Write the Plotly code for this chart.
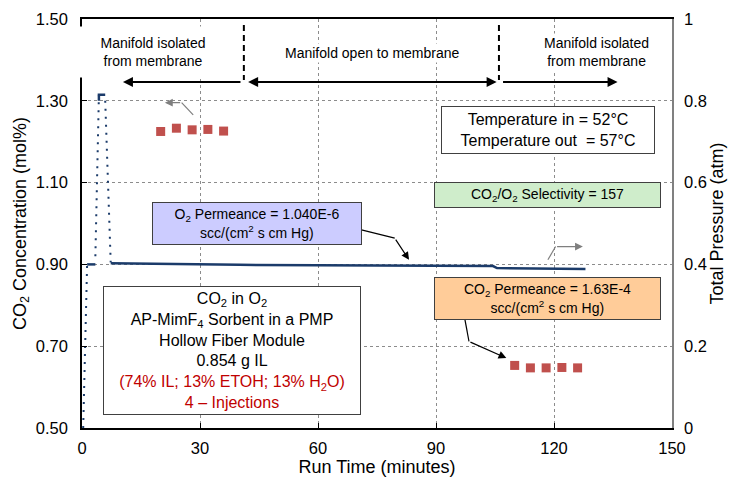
import plotly.graph_objects as go

# ---------------- data ----------------
# CO2 concentration (mol%) injection peaks - left axis
inj1_time = [20, 24, 28, 32, 36]
inj1_conc = [1.225, 1.233, 1.229, 1.230, 1.226]
inj2_time = [110, 114, 118, 122, 126]
inj2_conc = [0.653, 0.647, 0.647, 0.648, 0.647]

# Total pressure (atm) - right axis
fill1_time = [0.3, 1.3]
fill1_p = [0.00, 0.40]
hold1_time = [1.3, 3.4]
hold1_p = [0.40, 0.40]
fill2_time = [3.4, 4.3]
fill2_p = [0.42, 0.815]
hold2_time = [4.3, 4.3, 5.9]
hold2_p = [0.80, 0.815, 0.815]
drop_time = [5.9, 7.3]
drop_p = [0.80, 0.405]
hold3_time = [7.3, 20, 40, 60, 80, 100, 104.5, 105.5, 115, 128]
hold3_p = [0.403, 0.401, 0.399, 0.398, 0.397, 0.397, 0.396, 0.391, 0.390, 0.389]

x_ticks = [0, 30, 60, 90, 120, 150]
y_ticks = [0.50, 0.70, 0.90, 1.10, 1.30, 1.50]
y2_ticks = [0, 0.2, 0.4, 0.6, 0.8, 1]
y2_text = ["0", "0.2", "0.4", "0.6", "0.8", "1"]

# ---------------- style ----------------
NAVY = "#1B3B6A"
RED = "#C0504D"
FONT = "Liberation Sans, Arial, sans-serif"
OFF = 8                       # page body margin
W, H = 737 - OFF, 477 - OFF
X0, X1, YT, YB = 82, 672.5, 19, 428.3   # plot area in window pixels


def px(x):
    return (x - X0) / (X1 - X0)


def py(y):
    return (YB - y) / (YB - YT)


fig = go.Figure()

dotted = dict(color=NAVY, width=2, dash="2px,6px")
solid = dict(color=NAVY, width=2.5)
for t, p, ln in [(fill1_time, fill1_p, dotted), (hold1_time, hold1_p, solid),
                 (fill2_time, fill2_p, dotted), (hold2_time, hold2_p, solid),
                 (drop_time, drop_p, dotted), (hold3_time, hold3_p, solid)]:
    fig.add_trace(go.Scatter(x=t, y=p, yaxis="y2", mode="lines", line=ln,
                             showlegend=False, hoverinfo="skip"))

for t, c in [(inj1_time, inj1_conc), (inj2_time, inj2_conc)]:
    fig.add_trace(go.Scatter(x=t, y=c, mode="markers",
                             marker=dict(symbol="square", size=9, color=RED),
                             showlegend=False))

grid = dict(showgrid=True, gridcolor="#8c8c8c", griddash="dot", gridwidth=1)

fig.update_layout(
    width=W, height=H,
    margin=dict(l=X0 - OFF, r=737 - X1, t=YT - OFF, b=477 - YB, autoexpand=False),
    paper_bgcolor="white", plot_bgcolor="white",
    font=dict(family=FONT, size=16, color="black"),
    showlegend=False,
    xaxis=dict(range=[0, 150], tickvals=x_ticks, showline=True, linecolor="black",
               linewidth=1.5, mirror=True, ticks="inside", ticklen=5, tickcolor="black",
               zeroline=False, automargin=False, ticklabelstandoff=4,
               title=dict(text="Run Time (minutes)", font=dict(size=18), standoff=6),
               tickfont=dict(size=16.5), **grid),
    yaxis=dict(range=[0.5, 1.5], tickvals=y_ticks, tickformat=".2f", showline=True,
               linecolor="black", linewidth=1.5, ticks="inside", ticklen=5, tickcolor="black",
               zeroline=False, ticklabelstandoff=9, automargin=False,
               title=dict(text="CO<sub>2</sub> Concentration (mol%)", font=dict(size=18), standoff=5),
               tickfont=dict(size=16.5), **grid),
    yaxis2=dict(range=[0, 1], overlaying="y", side="right", tickvals=y2_ticks, ticktext=y2_text,
                showline=True, linecolor="#808080", linewidth=1.5, showgrid=False, zeroline=False,
                ticks="", ticklabelstandoff=7, automargin=False,
                title=dict(text="Total Pressure (atm)", font=dict(size=18), standoff=1),
                tickfont=dict(size=16.5)),
)

ann = []
# top region labels
ann.append(dict(text="Manifold isolated<br>from membrane", x=px(153), y=py(52),
                showarrow=False, bgcolor="white", width=168, height=48, font=dict(size=14)))
ann.append(dict(text="Manifold open to membrane", x=px(373), y=py(53.3),
                showarrow=False, bgcolor="white", font=dict(size=14)))
ann.append(dict(text="Manifold isolated<br>from membrane", x=px(597), y=py(52),
                showarrow=False, bgcolor="white", font=dict(size=14)))
# horizontal arrows
ann.append(dict(text="", x=px(123), y=py(82), ax=119, ay=0, showarrow=True,
                arrowhead=2, arrowsize=1, arrowwidth=2, arrowcolor="black"))
ann.append(dict(text="", x=px(497), y=py(82), ax=-250, ay=0, showarrow=True, arrowside="end+start",
                arrowhead=2, startarrowhead=2, arrowsize=1, startarrowsize=1, arrowwidth=2,
                arrowcolor="black"))
ann.append(dict(text="", x=px(618), y=py(82), ax=-116, ay=0, showarrow=True,
                arrowhead=2, arrowsize=1, arrowwidth=2, arrowcolor="black"))

# boxes
ann.append(dict(text="CO<sub>2</sub> in O<sub>2</sub><br>AP-MimF<sub>4</sub> Sorbent in a PMP<br>"
                     "Hollow Fiber Module<br>0.854 g IL<br>"
                     "<span style='color:#C00000'>(74% IL; 13% ETOH; 13% H<sub>2</sub>O)</span><br>"
                     "<span style='color:#C00000'>4 – Injections</span>",
                x=px(232), y=py(350.8), showarrow=False, bgcolor="white", bordercolor="#404040",
                borderwidth=1, width=254, height=125, font=dict(size=16)))
ann.append(dict(text="O<sub>2</sub> Permeance = 1.040E-6<br>scc/(cm<sup>2</sup> s cm Hg)",
                x=px(256.7), y=py(223.3), showarrow=False, bgcolor="#CCCCFF", bordercolor="#404040",
                borderwidth=1, width=206, height=39, font=dict(size=14)))
ann.append(dict(text="Temperature in = 52°C<br>Temperature out&nbsp; = 57°C",
                x=px(548), y=py(130.5), showarrow=False, bgcolor="white", bordercolor="#404040",
                borderwidth=1, width=210, height=44, font=dict(size=16)))
ann.append(dict(text="CO<sub>2</sub>/O<sub>2</sub> Selectivity = 157",
                x=px(548), y=py(195.5), showarrow=False, bgcolor="#CFEDCB", bordercolor="#404040",
                borderwidth=1, width=223, height=22, font=dict(size=14)))
ann.append(dict(text="CO<sub>2</sub> Permeance = 1.63E-4<br>scc/(cm<sup>2</sup> s cm Hg)",
                x=px(547.7), y=py(298.7), showarrow=False, bgcolor="#FFCC99", bordercolor="#404040",
                borderwidth=1, width=223, height=39, font=dict(size=14)))

# callout arrows (last segment)
for hx, hy, tx, ty, col in [(165, 102.7, 181.7, 102.7, "#7F7F7F"),
                            (409.3, 260, 395, 238.3, "black"),
                            (583.3, 246.7, 556, 246.7, "#7F7F7F"),
                            (506.7, 358.3, 469.3, 341.7, "black")]:
    ann.append(dict(text="", x=px(hx), y=py(hy), ax=tx - hx, ay=ty - hy, showarrow=True,
                    arrowhead=2, arrowsize=1.3, arrowwidth=1.2, arrowcolor=col))

for a in ann:
    a.setdefault("xref", "paper")
    a.setdefault("yref", "paper")
    a.setdefault("xanchor", "center")
    a.setdefault("yanchor", "middle")
fig.update_layout(annotations=ann)

shapes = []
# dashed separators
for xx in [244, 499.3]:
    shapes.append(dict(type="line", xref="paper", yref="paper", x0=px(xx), x1=px(xx),
                       y0=py(25), y1=py(80), line=dict(color="black", width=2, dash="6px,4px")))
# callout first segments
for (x0, y0, x1, y1, col) in [(193.3, 115, 181.7, 102.7, "#7F7F7F"),
                              (361.7, 230, 395, 238.3, "black"),
                              (548.3, 260, 556, 246.7, "#7F7F7F"),
                              (465, 318.3, 469.3, 341.7, "black")]:
    shapes.append(dict(type="line", xref="paper", yref="paper", x0=px(x0), x1=px(x1),
                       y0=py(y0), y1=py(y1), line=dict(color=col, width=1.2)))
fig.update_layout(shapes=shapes)

fig.write_html("out.html")
